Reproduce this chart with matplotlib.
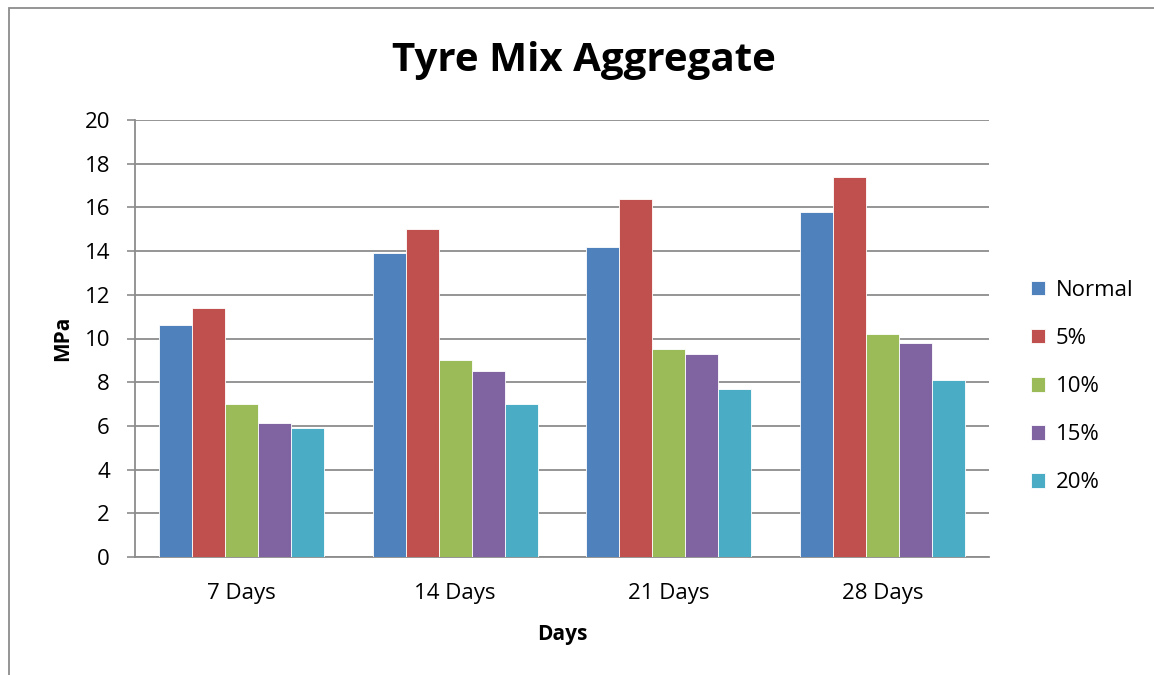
import matplotlib
matplotlib.use("Agg")
import matplotlib.pyplot as plt
from matplotlib.patches import Rectangle
import numpy as np

categories = ["7 Days", "14 Days", "21 Days", "28 Days"]
series_names = ["Normal", "5%", "10%", "15%", "20%"]
normal = [10.6, 13.9, 14.2, 15.8]
pct5 = [11.4, 15.0, 16.4, 17.4]
pct10 = [7.0, 9.0, 9.5, 10.2]
pct15 = [6.15, 8.5, 9.3, 9.8]
pct20 = [5.9, 7.0, 7.7, 8.1]
yticks = [0, 2, 4, 6, 8, 10, 12, 14, 16, 18, 20]

colors = ["#4F81BD", "#C0504D", "#9BBB59", "#8064A2", "#4BACC6"]
values = [normal, pct5, pct10, pct15, pct20]

plt.rcParams['font.family'] = ['Open Sans', 'DejaVu Sans']

fig = plt.figure(figsize=(11.54, 6.75), dpi=100)
ax = fig.add_axes([135/1154, 1-557/675, (989-135)/1154, (557-120)/675])

x = np.arange(len(categories))
w = 0.1545
for i, (name, vals) in enumerate(zip(series_names, values)):
    ax.bar(x + (i - 2) * w, vals, width=w, color=colors[i], label=name,
           edgecolor="white", linewidth=0.6, zorder=3)

ax.set_xlim(-0.5, len(categories) - 0.5)
ax.set_ylim(0, 20)
ax.set_yticks(yticks)
ax.set_yticklabels([str(t) for t in yticks], fontsize=16)
ax.set_xticks(x)
ax.set_xticklabels(categories, fontsize=16)
ax.tick_params(axis='x', which='major', length=0, pad=19)
ax.tick_params(axis='y', length=6, width=1.2, color="#8C8C8C", direction='out', pad=12)
ax.grid(axis='y', color="#8C8C8C", linewidth=1.3, zorder=0)
for s in ["top", "right"]:
    ax.spines[s].set_visible(False)
ax.spines["left"].set_color("#8C8C8C")
ax.spines["bottom"].set_color("#8C8C8C")
ax.spines["left"].set_linewidth(1.3)
ax.spines["bottom"].set_linewidth(1.3)

ax.set_ylabel("MPa", fontsize=15, fontweight="bold", labelpad=8)
ax.set_xlabel("Days", fontsize=15, fontweight="bold", labelpad=14)
fig.text(584/1154, 1-61/675, "Tyre Mix Aggregate", ha="center", va="center",
         fontsize=29, fontweight="bold")

leg = fig.legend(loc="upper left", bbox_to_anchor=(1011/1154, 1-260/675),
                 frameon=False, fontsize=16, handlelength=0.62, handleheight=0.62,
                 labelspacing=1.22, handletextpad=0.5)

fig.patches.append(Rectangle((9/1154, -0.05), 1.2, 1 - 8/675 + 0.05,
                             transform=fig.transFigure, fill=False,
                             edgecolor="#8C8C8C", linewidth=1.3))

fig.savefig("out.png", dpi=100)
